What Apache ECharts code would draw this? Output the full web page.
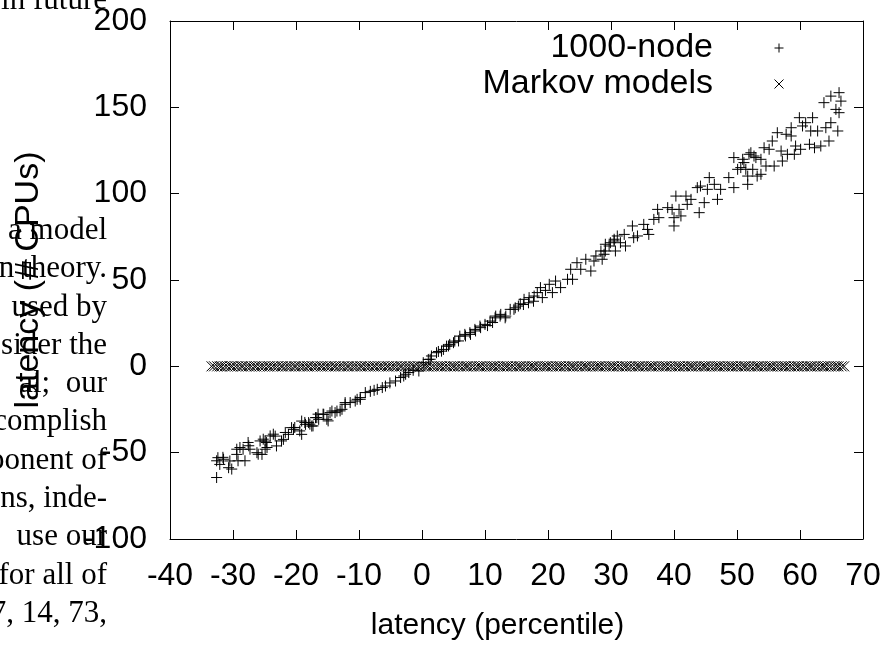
<!DOCTYPE html>
<html><head><meta charset="utf-8">
<script src="https://cdn.jsdelivr.net/npm/echarts@6/dist/echarts.min.js"></script>
<style>html,body{margin:0;padding:0;background:#fff;overflow:hidden}#c{width:892px;height:646px}</style>
</head><body><div id="c"></div>
<script>
// ---- data ----
const seriesNames = ['1000-node', 'Markov models'];
const xAxisTitle = 'latency (percentile)';
const yAxisTitle = 'latency (# CPUs)';
const xMin = -40, xMax = 70, xStep = 10;
const yMin = -100, yMax = 200, yStep = 50;

const nodeX = [
-32.6,-32.6,-32.4,-32.1,-31.6,-31.5,-30.7,-30.5,-30.2,-29.4,-29.4,-29.2,-28.9,-28.4,-28.1,-27.6,-27.5,-27.3,-26.2,-26.0,
-25.7,-25.4,-25.2,-24.9,-24.9,-24.7,-24.6,-24.1,-23.6,-23.3,-23.1,-22.3,-22.0,-21.7,-21.2,-20.7,-20.4,-20.2,-19.4,-19.1,
-19.1,-18.6,-18.5,-18.0,-17.8,-17.5,-17.3,-16.9,-16.7,-16.5,-16.4,-15.7,-15.6,-15.1,-14.9,-14.6,-14.3,-13.8,-13.5,-13.0,
-12.7,-12.2,-12.2,-11.4,-10.6,-10.3,-9.8,-9.8,-9.0,-8.2,-7.6,-7.1,-6.3,-5.8,-5.1,-4.2,-3.4,-2.9,-2.6,-2.1,
-1.4,-0.5,0.2,1.0,1.3,1.5,2.3,2.6,3.1,3.4,3.9,4.2,4.4,5.0,5.2,5.8,6.0,6.8,6.9,7.6,
7.7,8.4,8.5,9.2,9.3,10.0,10.4,10.8,11.2,11.6,11.7,12.4,12.5,13.2,13.3,14.0,14.6,14.8,15.3,15.6,
16.1,16.2,16.9,17.0,17.7,17.8,18.3,18.8,19.1,19.6,20.2,20.7,21.2,22.0,23.1,23.6,23.9,24.6,25.2,26.0,
26.8,27.3,27.6,28.4,28.6,28.9,29.1,29.1,29.7,29.9,30.5,30.5,30.7,31.0,31.5,32.1,32.3,33.4,33.6,34.2,
35.2,35.8,36.0,36.8,37.4,37.6,39.0,39.7,40.3,40.0,40.0,40.8,41.1,41.9,42.1,42.7,43.7,44.0,44.2,44.8,
45.3,45.6,46.4,46.9,47.4,48.7,49.5,49.5,50.1,50.6,50.9,51.1,51.4,51.7,51.7,51.9,52.2,52.5,52.7,53.0,
53.2,53.8,53.8,54.3,54.6,55.1,55.6,55.9,56.4,57.0,57.2,57.8,58.0,58.6,58.6,59.1,59.3,59.9,60.1,60.4,
60.9,61.5,61.7,62.0,62.3,62.8,63.3,63.8,64.1,64.6,64.9,64.9,65.7,66.0,66.2,66.2,66.5
];
const nodeY = [
-64.4,-54.7,-52.9,-56.8,-52.7,-53.8,-58.7,-54.8,-59.5,-48.0,-51.0,-54.7,-47.0,-48.0,-54.7,-44.1,-46.0,-48.0,-50.0,-50.9,
-43.2,-51.0,-42.2,-43.3,-48.0,-44.1,-47.0,-40.3,-39.3,-40.4,-46.1,-43.2,-42.3,-38.3,-39.4,-35.5,-36.5,-35.4,-37.4,-31.7,
-39.4,-32.5,-33.6,-32.6,-33.5,-34.6,-34.5,-29.7,-29.7,-27.7,-30.7,-27.7,-27.8,-30.7,-31.6,-26.8,-25.9,-26.8,-25.9,-25.8,
-24.9,-22.0,-21.0,-21.0,-20.1,-19.1,-18.1,-19.1,-15.2,-14.5,-13.9,-13.3,-12.3,-11.4,-9.6,-8.5,-6.5,-5.6,-4.6,-3.6,
-2.3,-2.7,2.1,4.0,4.1,6.0,7.9,8.6,8.8,9.8,11.7,11.8,12.7,13.7,14.6,14.7,17.5,18.5,17.6,19.5,
18.5,21.4,20.5,23.3,22.4,24.3,23.6,26.2,25.4,28.1,29.1,29.1,30.1,28.1,29.1,33.0,33.0,33.9,34.9,36.2,
35.8,38.8,36.8,39.8,37.7,40.7,42.7,45.6,39.8,44.0,47.5,42.7,49.4,45.6,50.4,56.2,50.4,60.0,56.2,62.0,
55.2,61.0,63.9,66.8,62.0,64.9,70.7,66.8,69.7,71.6,73.6,72.6,66.8,75.5,71.6,76.4,69.7,81.3,74.5,75.5,
82.2,79.3,76.4,85.1,90.9,86.1,91.9,90.9,98.6,86.1,81.3,90.9,87.1,98.6,93.8,96.7,103.5,89.0,104.4,94.8,
102.5,109.3,105.4,96.7,102.5,109.3,120.9,103.5,114.1,115.1,119.9,118.0,114.1,105.4,110.2,122.8,123.7,114.1,121.8,120.9,
110.2,111.2,119.9,126.6,116.0,125.7,130.5,116.0,135.3,124.7,118.9,134.4,122.8,138.2,133.4,122.8,127.6,144.0,125.7,139.2,
141.1,128.6,136.3,144.0,126.6,136.3,127.6,152.7,138.2,130.5,156.5,141.1,148.8,136.3,158.5,146.9,153.6
];

const markovX = [
-33.4,-33.0,-32.5,-32.1,-31.8,-31.3,-30.9,-30.4,-30.1,-29.6,-29.2,-28.7,-28.4,-27.9,-27.5,-27.1,-26.6,-26.3,-25.8,-25.4,
-25.0,-24.5,-24.2,-23.7,-23.3,-22.9,-22.4,-22.1,-21.6,-21.2,-20.8,-20.3,-20.0,-19.5,-19.1,-18.7,-18.2,-17.9,-17.4,-17.0,
-16.6,-16.1,-15.8,-15.3,-14.9,-14.5,-14.0,-13.7,-13.2,-12.8,-12.4,-11.9,-11.6,-11.1,-10.7,-10.3,-9.8,-9.5,-9.0,-8.6,
-8.2,-7.7,-7.4,-6.9,-6.5,-6.1,-5.6,-5.3,-4.8,-4.4,-4.0,-3.5,-3.2,-2.7,-2.3,-1.9,-1.4,-1.1,-0.6,-0.2,
0.3,0.7,1.0,1.5,1.9,2.4,2.8,3.1,3.6,4.0,4.5,4.9,5.2,5.7,6.1,6.6,7.0,7.3,7.8,8.2,
8.7,9.1,9.4,9.9,10.3,10.8,11.2,11.5,12.0,12.4,12.9,13.3,13.6,14.1,14.5,15.0,15.4,15.7,16.2,16.6,
17.1,17.5,17.8,18.3,18.7,19.2,19.6,19.9,20.4,20.8,21.3,21.7,22.0,22.5,22.9,23.4,23.8,24.1,24.6,25.0,
25.5,25.9,26.2,26.7,27.1,27.6,28.0,28.3,28.8,29.2,29.7,30.1,30.4,30.9,31.3,31.8,32.2,32.5,33.0,33.4,
33.9,34.3,34.6,35.1,35.5,36.0,36.4,36.7,37.2,37.6,38.1,38.5,38.8,39.3,39.7,40.2,40.6,40.9,41.4,41.8,
42.3,42.7,43.0,43.5,43.9,44.4,44.8,45.1,45.6,46.0,46.5,46.9,47.2,47.7,48.1,48.6,49.0,49.3,49.8,50.2,
50.7,51.1,51.4,51.9,52.3,52.8,53.2,53.5,54.0,54.4,54.9,55.3,55.6,56.1,56.5,57.0,57.4,57.7,58.2,58.6,
59.1,59.5,59.8,60.3,60.7,61.2,61.6,61.9,62.4,62.8,63.3,63.7,64.0,64.5,64.9,65.4,65.8,66.1,66.6,67.0
];
const markovLevel = 0;

// text of the paper page that shows behind the figure (left margin)
const paperLines = [
'in future','','','','','',
'a model','n theory.','used by','sider the','al;  our','complish',
'ponent of','ns, inde-','use our','for all of','7, 14, 73,'
];

// ---- chart ----
const plusPath = 'path://M0,5L10,5M5,0L5,10';
const crossPath = 'path://M0,0L10,10M10,0L0,10';
const sans = 'Liberation Sans, Arial, Helvetica, sans-serif';
const serif = 'Liberation Serif, Times New Roman, serif';

const chart = echarts.init(document.getElementById('c'), null, {renderer: 'canvas'});

const axisCommon = {
  type: 'value',
  axisLine: {show: true, onZero: false, lineStyle: {color: '#000', width: 1}},
  axisTick: {show: true, inside: true, length: 9, lineStyle: {color: '#000', width: 1}},
  splitLine: {show: false}
};

const paperText = paperLines.map((t, i) => ({
  type: 'text', z: 0,
  x: 107, y: 1 + i * 38.3,
  style: {text: t, font: '31px ' + serif, fill: '#000', textAlign: 'right', textVerticalAlign: 'middle'}
}));

chart.setOption({
  animation: false,
  backgroundColor: '#fff',
  grid: {left: 170, right: 29, top: 21, bottom: 106, containLabel: false},
  xAxis: [
    Object.assign({}, axisCommon, {
      position: 'bottom', min: xMin, max: xMax, interval: xStep,
      axisLabel: {color: '#000', fontFamily: sans, fontSize: 32, margin: 21},
      name: xAxisTitle, nameLocation: 'middle', nameGap: 72,
      nameTextStyle: {color: '#000', fontFamily: sans, fontSize: 30, padding: [0, 38, 0, 0]}
    }),
    Object.assign({}, axisCommon, {
      position: 'top', min: xMin, max: xMax, interval: xStep, axisLabel: {show: false}
    })
  ],
  yAxis: [
    Object.assign({}, axisCommon, {
      position: 'left', min: yMin, max: yMax, interval: yStep,
      axisLabel: {color: '#000', fontFamily: sans, fontSize: 32, margin: 23},
      name: yAxisTitle, nameLocation: 'middle', nameGap: 124, nameRotate: 90,
      nameTextStyle: {color: '#000', fontFamily: sans, fontSize: 34}
    }),
    Object.assign({}, axisCommon, {
      position: 'right', min: yMin, max: yMax, interval: yStep, axisLabel: {show: false}
    })
  ],
  legend: {
    orient: 'vertical', align: 'right', right: 101, top: 25,
    itemWidth: 122, itemHeight: 9, itemGap: 0,
    symbolKeepAspect: true,
    textStyle: {color: '#000', fontFamily: sans, fontSize: 34, lineHeight: 36},
    data: [
      {name: seriesNames[0], icon: plusPath, itemStyle: {color: 'none', borderColor: '#000', borderWidth: 1}},
      {name: seriesNames[1], icon: crossPath, itemStyle: {color: 'none', borderColor: '#000', borderWidth: 1}}
    ],
    selectedMode: false
  },
  graphic: paperText,
  series: [
    {
      name: seriesNames[0], type: 'scatter', symbol: plusPath, symbolSize: 11, symbolKeepAspect: true,
      data: nodeX.map((x, i) => [x, nodeY[i]]),
      itemStyle: {color: 'none', borderColor: '#000', borderWidth: 1, opacity: 1},
      emphasis: {disabled: true}, silent: true, progressive: 0, large: false, z: 3
    },
    {
      name: seriesNames[1], type: 'scatter', symbol: crossPath, symbolSize: 10, symbolKeepAspect: true,
      data: markovX.map(x => [x, markovLevel]),
      itemStyle: {color: 'none', borderColor: '#000', borderWidth: 1, opacity: 1},
      emphasis: {disabled: true}, silent: true, progressive: 0, large: false, z: 2
    }
  ]
});
</script>
</body></html>
